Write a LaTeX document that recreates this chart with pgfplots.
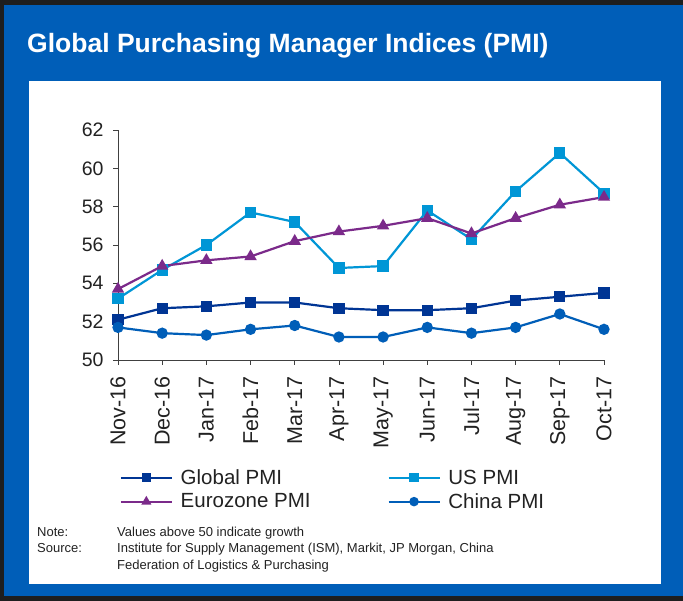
\documentclass[border=0pt]{standalone}
\usepackage{fontspec}
\setmainfont{Liberation Sans}
\usepackage{pgfplots}
\pgfplotsset{compat=1.18}
\definecolor{frameblue}{HTML}{005EB8}
\definecolor{globalc}{HTML}{003594}
\definecolor{usc}{HTML}{0096D6}
\definecolor{euroc}{HTML}{7B2A8A}
\definecolor{chinac}{HTML}{005EB8}
\definecolor{axisgray}{HTML}{404040}
\definecolor{txt}{HTML}{222222}
\definecolor{darkbg}{HTML}{1E1E1E}
\begin{document}
\begin{tikzpicture}
\useasboundingbox (0pt,0pt) rectangle (683pt,601pt);
\fill[darkbg] (0pt,0pt) rectangle (683pt,601pt);
\fill[frameblue] (4pt,5pt) rectangle (683pt,596pt);
\fill[white] (29pt,17pt) rectangle (661pt,520pt);
\node[anchor=base west, inner sep=0, text=white, font=\fontsize{26.5}{30}\selectfont\bfseries] at (27pt,548pt) {Global Purchasing Manager Indices (PMI)};
\begin{axis}[
  at={(118pt,241pt)}, anchor=south west, scale only axis,
  width=486pt, height=230pt,
  xmin=0, xmax=11, ymin=50, ymax=62,
  ytick={50,52,...,62},
  xtick={0,...,11},
  xticklabels={Nov-16,Dec-16,Jan-17,Feb-17,Mar-17,Apr-17,May-17,Jun-17,Jul-17,Aug-17,Sep-17,Oct-17},
  axis x line*=bottom, axis y line*=left,
  axis line style={axisgray, line width=0.8pt},
  tick align=outside, major tick length=5pt,
  tick style={axisgray, line width=0.8pt},
  /pgf/number format/assume math mode=true,
  yticklabel style={font=\fontsize{19.5}{22}\selectfont, text=txt},
  xticklabel style={font=\fontsize{21.5}{24}\selectfont, text=txt, rotate=90, anchor=east},
  xticklabel shift=8pt,
  yticklabel shift=6pt,
  clip=false,
  legend columns=2,
  legend cell align=left,
  legend image code/.code={\path (55pt,0pt); \draw[mark repeat=2,mark phase=2,#1,mark size=3.6pt] plot coordinates {(0pt,0pt) (25.5pt,0pt) (51pt,0pt)};},
  legend style={at={(-0.003,-0.45)}, anchor=north west, draw=none, fill=none,
    font=\fontsize{20.5}{23}\selectfont, text=txt,
    nodes={inner sep=3.8pt},
    /tikz/every even column/.append style={column sep=73pt}},
]
\addplot[globalc, line width=2.2pt, mark=square*, mark size=4.5pt, mark options={solid}]
 coordinates {(0,52.1)(1,52.7)(2,52.8)(3,53.0)(4,53.0)(5,52.7)(6,52.6)(7,52.6)(8,52.7)(9,53.1)(10,53.3)(11,53.5)};
\addplot[usc, line width=2.2pt, mark=square*, mark size=4.5pt, mark options={solid}]
 coordinates {(0,53.2)(1,54.7)(2,56.0)(3,57.7)(4,57.2)(5,54.8)(6,54.9)(7,57.8)(8,56.3)(9,58.8)(10,60.8)(11,58.7)};
\addplot[euroc, line width=2.2pt, mark=triangle*, mark size=5pt, mark options={solid}]
 coordinates {(0,53.7)(1,54.9)(2,55.2)(3,55.4)(4,56.2)(5,56.7)(6,57.0)(7,57.4)(8,56.6)(9,57.4)(10,58.1)(11,58.5)};
\addplot[chinac, line width=2.2pt, mark=*, mark size=4.5pt, mark options={solid}]
 coordinates {(0,51.7)(1,51.4)(2,51.3)(3,51.6)(4,51.8)(5,51.2)(6,51.2)(7,51.7)(8,51.4)(9,51.7)(10,52.4)(11,51.6)};
\legend{Global PMI, US PMI, Eurozone PMI, China PMI}
\end{axis}
\begin{scope}[every node/.style={anchor=base west, inner sep=0, font=\fontsize{13}{15}\selectfont, text=txt}]
\node at (37pt,64pt) {Note:};
\node at (117pt,64pt) {Values above 50 indicate growth};
\node at (37pt,48pt) {Source:};
\node at (117pt,48pt) {Institute for Supply Management (ISM), Markit, JP Morgan, China};
\node at (117pt,31pt) {Federation of Logistics \& Purchasing};
\end{scope}
\end{tikzpicture}
\end{document}
